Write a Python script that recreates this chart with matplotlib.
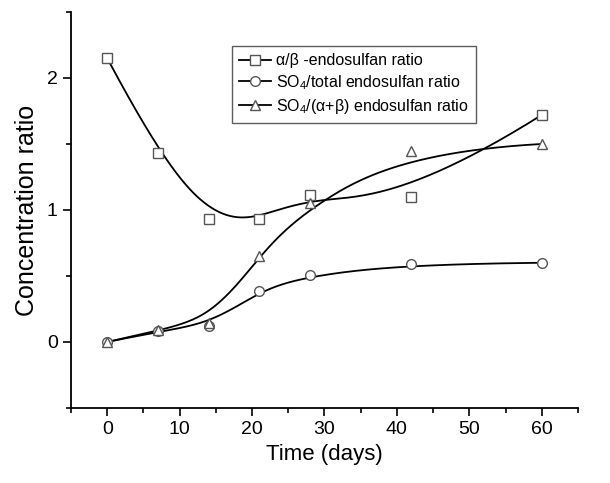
import numpy as np
import matplotlib
matplotlib.use("Agg")
import matplotlib.pyplot as plt
from matplotlib.ticker import MultipleLocator

plt.rcParams['font.family'] = ['Liberation Sans', 'DejaVu Sans']
plt.rcParams['mathtext.fontset'] = 'custom'
plt.rcParams['mathtext.rm'] = 'Liberation Sans'
plt.rcParams['mathtext.it'] = 'Liberation Sans'

# data
days = [0, 7, 14, 21, 28, 42, 60]
ab_ratio = [2.15, 1.43, 0.93, 0.93, 1.11, 1.10, 1.72]
so4_total = [0.0, 0.08, 0.12, 0.39, 0.51, 0.59, 0.60]
so4_ab = [0.0, 0.09, 0.145, 0.655, 1.05, 1.445, 1.50]

labels = [r'α/β -endosulfan ratio',
          r'SO$_4$/total endosulfan ratio',
          r'SO$_4$/(α+β) endosulfan ratio']
markers = ['s', 'o', '^']


def bspline(px, py, n=300):
    # clamped cubic B-spline, data points used as control points (Origin style)
    px = np.asarray(px, float)
    py = np.asarray(py, float)
    m = len(px)
    k = 3
    knots = np.concatenate([np.zeros(k), np.arange(m - k + 1), np.full(k, m - k)])
    t = np.linspace(0, m - k, n)
    t[-1] -= 1e-9
    # Cox-de Boor
    B = np.zeros((n, len(knots) - 1))
    for i in range(len(knots) - 1):
        B[:, i] = (t >= knots[i]) & (t < knots[i + 1])
    for d in range(1, k + 1):
        Bn = np.zeros((n, len(knots) - 1 - d))
        for i in range(len(knots) - 1 - d):
            a = knots[i + d] - knots[i]
            b = knots[i + d + 1] - knots[i + 1]
            left = (t - knots[i]) / a * B[:, i] if a > 0 else 0
            right = (knots[i + d + 1] - t) / b * B[:, i + 1] if b > 0 else 0
            Bn[:, i] = left + right
        B = Bn
    return B @ px, B @ py


fig = plt.figure(figsize=(6.1, 4.83), dpi=100)
ax = fig.add_axes([0.1164, 0.1553, 0.8311, 0.8199])

for ys, mk, lab in zip([ab_ratio, so4_total, so4_ab], markers, labels):
    cx, cy = bspline(days, ys)
    ms = 6.5 if mk == 's' else 7
    ax.plot(cx, cy, color='black', lw=1.3, zorder=2)
    ax.plot(days, ys, linestyle='none', marker=mk, ms=ms,
            mfc='white', mec='#555555', mew=1.0, zorder=3)
    # legend proxy
    ax.plot([], [], color='black', lw=1.3, marker=mk, ms=ms,
            mfc='white', mec='#555555', mew=1.0, label=lab)

ax.set_xlim(-5, 65)
ax.set_ylim(-0.5, 2.5)
ax.xaxis.set_major_locator(MultipleLocator(10))
ax.xaxis.set_minor_locator(MultipleLocator(5))
ax.yaxis.set_major_locator(MultipleLocator(1))
ax.yaxis.set_minor_locator(MultipleLocator(0.5))
ax.spines['top'].set_visible(False)
ax.spines['right'].set_visible(False)
for s in ['left', 'bottom']:
    ax.spines[s].set_linewidth(1.3)
ax.tick_params(which='major', direction='out', length=6, width=1.2, labelsize=14)
ax.tick_params(which='minor', direction='out', length=3.5, width=1.2)

ax.set_xlabel('Time (days)', fontsize=16)
ax.set_ylabel('Concentration ratio', fontsize=18, labelpad=6)

leg = ax.legend(loc='upper left', bbox_to_anchor=(0.3176, 0.914), fontsize=11.5,
                frameon=True, fancybox=False, edgecolor='#333333', borderaxespad=0,
                handlelength=2.0, borderpad=0.45, labelspacing=0.3, handletextpad=0.3)
leg.get_frame().set_linewidth(1.0)

fig.savefig('out.png', dpi=100)
